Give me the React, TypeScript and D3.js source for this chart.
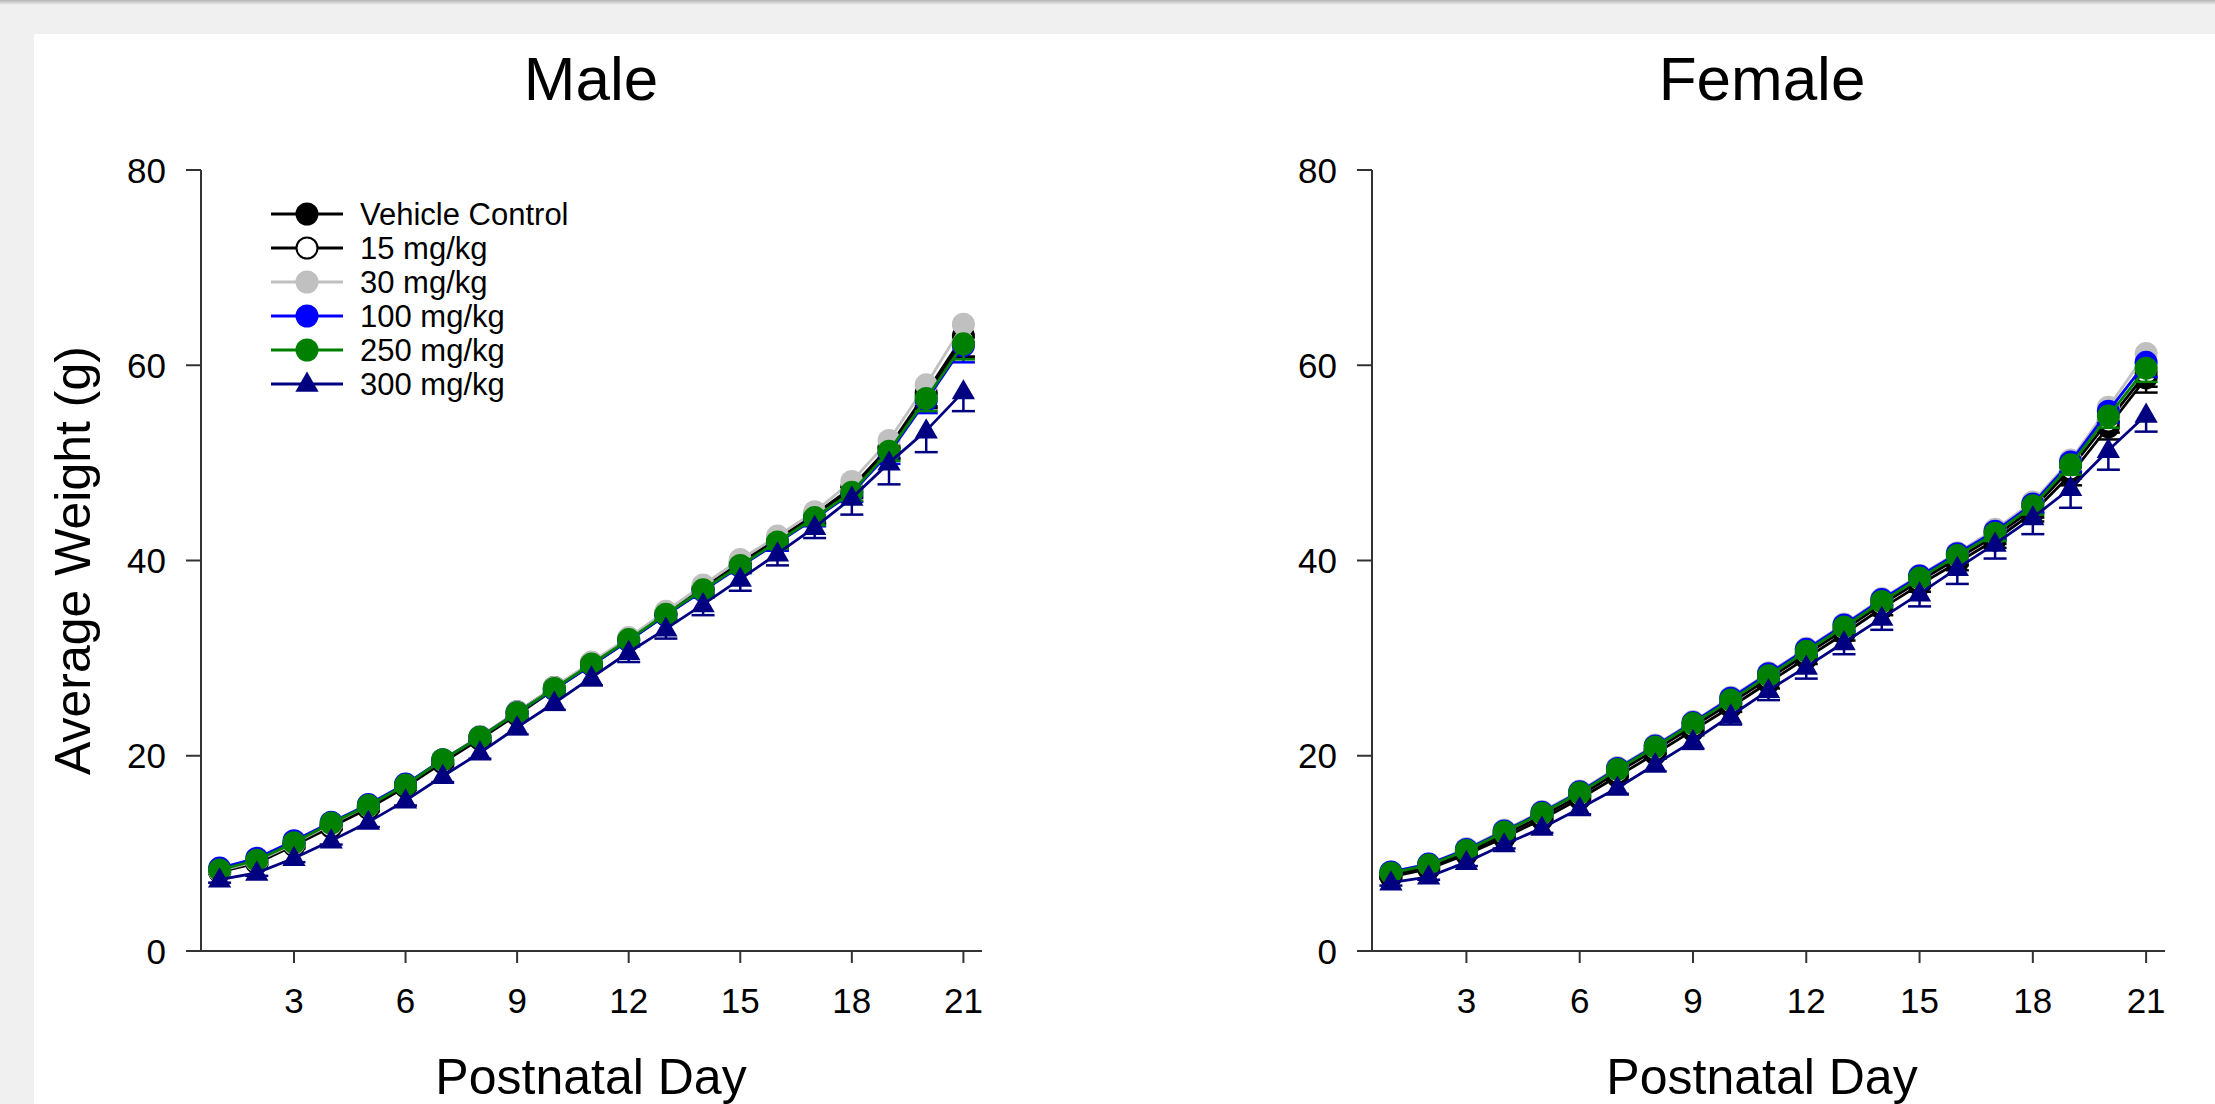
import React from 'react';
import * as d3 from 'd3';

// x categories: postnatal day
const DAYS = [1, 2, 3, 4, 5, 6, 7, 8, 9, 10, 11, 12, 13, 14, 15, 16, 17, 18, 19, 20, 21];
const X_TICKS = [3, 6, 9, 12, 15, 18, 21];
const Y_TICKS = [0, 20, 40, 60, 80];
const GROUPS = ['Vehicle Control', '15 mg/kg', '30 mg/kg', '100 mg/kg', '250 mg/kg', '300 mg/kg'];

// Male mean weights (g)
const maleVehicle = [8.2, 9.1, 10.9, 12.8, 14.8, 17.0, 19.5, 21.9, 24.5, 27.0, 29.5, 32.0, 34.6, 37.2, 39.8, 42.2, 44.7, 47.5, 51.6, 57.2, 63.0];
const male15 = [8.1, 9.0, 10.8, 12.7, 14.6, 16.8, 19.3, 21.7, 24.2, 26.8, 29.3, 31.8, 34.4, 37.0, 39.5, 42.0, 44.5, 47.3, 51.4, 56.9, 62.6];
const male30 = [8.2, 9.2, 11.0, 13.0, 14.9, 17.1, 19.6, 22.0, 24.5, 27.0, 29.6, 32.1, 34.8, 37.5, 40.1, 42.5, 45.0, 48.1, 52.3, 58.0, 64.2];
const male100 = [8.5, 9.5, 11.3, 13.2, 15.0, 17.1, 19.6, 21.9, 24.4, 26.8, 29.3, 31.8, 34.4, 36.9, 39.4, 41.8, 44.3, 46.9, 51.0, 56.4, 62.0];
const male250 = [8.3, 9.3, 11.1, 13.1, 14.9, 17.0, 19.6, 21.9, 24.4, 26.9, 29.4, 31.9, 34.5, 37.0, 39.5, 41.9, 44.4, 47.0, 51.2, 56.6, 62.2];
const male300 = [7.3, 8.0, 9.5, 11.3, 13.2, 15.4, 17.9, 20.3, 22.9, 25.4, 28.0, 30.6, 33.0, 35.5, 38.1, 40.7, 43.4, 46.4, 50.0, 53.3, 57.3];

// Male standard errors
const maleVehicleSE = [0.2, 0.2, 0.3, 0.3, 0.3, 0.4, 0.4, 0.4, 0.5, 0.5, 0.5, 0.6, 0.6, 0.6, 0.7, 0.7, 0.8, 0.9, 1.1, 1.4, 2.2];
const male15SE = [0.2, 0.2, 0.3, 0.3, 0.3, 0.3, 0.4, 0.4, 0.4, 0.5, 0.5, 0.5, 0.6, 0.6, 0.7, 0.7, 0.8, 0.9, 1.0, 1.3, 1.7];
const male30SE = [0.2, 0.2, 0.2, 0.3, 0.3, 0.3, 0.4, 0.4, 0.4, 0.5, 0.5, 0.5, 0.6, 0.6, 0.6, 0.7, 0.7, 0.8, 1.0, 1.2, 1.6];
const male100SE = [0.2, 0.2, 0.3, 0.3, 0.3, 0.4, 0.4, 0.4, 0.5, 0.5, 0.5, 0.6, 0.6, 0.7, 0.7, 0.8, 0.8, 0.9, 1.1, 1.3, 1.7];
const male250SE = [0.2, 0.2, 0.3, 0.3, 0.3, 0.4, 0.4, 0.4, 0.5, 0.5, 0.5, 0.6, 0.6, 0.6, 0.7, 0.7, 0.8, 0.9, 1.0, 1.3, 1.6];
const male300SE = [0.3, 0.3, 0.4, 0.4, 0.5, 0.5, 0.6, 0.6, 0.7, 0.7, 0.8, 1.0, 1.0, 1.1, 1.2, 1.2, 1.1, 1.7, 2.2, 2.2, 2.0];

// Female mean weights (g)
const femaleVehicle = [7.6, 8.4, 9.9, 11.6, 13.5, 15.6, 17.9, 20.2, 22.6, 25.0, 27.5, 30.0, 32.5, 35.1, 37.5, 39.8, 42.1, 44.9, 48.8, 53.7, 58.7];
const female15 = [7.8, 8.6, 10.1, 11.9, 13.8, 15.9, 18.3, 20.6, 23.0, 25.4, 27.9, 30.4, 32.9, 35.5, 37.9, 40.2, 42.5, 45.3, 49.4, 54.3, 59.2];
const female30 = [8.1, 8.9, 10.5, 12.4, 14.3, 16.4, 18.8, 21.1, 23.5, 26.0, 28.5, 31.0, 33.5, 36.1, 38.5, 40.8, 43.2, 46.0, 50.3, 55.7, 61.2];
const female100 = [8.1, 8.9, 10.4, 12.3, 14.2, 16.3, 18.7, 21.0, 23.4, 25.9, 28.4, 30.9, 33.4, 36.0, 38.4, 40.7, 43.0, 45.8, 50.1, 55.3, 60.3];
const female250 = [8.0, 8.8, 10.3, 12.2, 14.1, 16.2, 18.6, 20.9, 23.3, 25.7, 28.2, 30.7, 33.2, 35.8, 38.2, 40.5, 42.8, 45.6, 49.8, 54.8, 59.7];
const female300 = [7.0, 7.6, 9.1, 10.9, 12.6, 14.6, 16.7, 19.1, 21.5, 24.1, 26.7, 29.1, 31.6, 34.1, 36.6, 39.2, 41.7, 44.4, 47.4, 51.3, 54.9];

// Female standard errors
const femaleVehicleSE = [0.2, 0.2, 0.3, 0.3, 0.3, 0.4, 0.4, 0.5, 0.5, 0.5, 0.6, 0.6, 0.7, 0.7, 0.7, 0.8, 0.8, 0.9, 1.1, 1.3, 1.5];
const female15SE = [0.2, 0.2, 0.2, 0.3, 0.3, 0.3, 0.4, 0.4, 0.5, 0.5, 0.5, 0.6, 0.6, 0.6, 0.7, 0.7, 0.8, 0.9, 1.0, 1.2, 1.4];
const female30SE = [0.2, 0.2, 0.2, 0.3, 0.3, 0.3, 0.4, 0.4, 0.4, 0.5, 0.5, 0.5, 0.6, 0.6, 0.6, 0.7, 0.7, 0.8, 1.0, 1.2, 1.4];
const female100SE = [0.2, 0.2, 0.3, 0.3, 0.3, 0.4, 0.4, 0.4, 0.5, 0.5, 0.5, 0.6, 0.6, 0.6, 0.7, 0.7, 0.8, 0.9, 1.0, 1.2, 1.5];
const female250SE = [0.2, 0.2, 0.3, 0.3, 0.3, 0.4, 0.4, 0.4, 0.5, 0.5, 0.5, 0.6, 0.6, 0.6, 0.7, 0.7, 0.8, 0.9, 1.0, 1.2, 1.4];
const female300SE = [0.3, 0.3, 0.4, 0.4, 0.5, 0.6, 0.6, 0.7, 0.8, 0.9, 1.0, 1.2, 1.2, 1.2, 1.3, 1.6, 1.5, 1.7, 2.0, 2.0, 1.7];

const MALE_MEANS = [maleVehicle, male15, male30, male100, male250, male300];
const MALE_SE = [maleVehicleSE, male15SE, male30SE, male100SE, male250SE, male300SE];
const FEMALE_MEANS = [femaleVehicle, female15, female30, female100, female250, female300];
const FEMALE_SE = [femaleVehicleSE, female15SE, female30SE, female100SE, female250SE, female300SE];

const STYLES = [
  { stroke: '#000000', fill: '#000000', edge: '#000000', shape: 'circle' },
  { stroke: '#000000', fill: '#ffffff', edge: '#000000', shape: 'circle' },
  { stroke: '#c0c0c0', fill: '#c0c0c0', edge: '#c0c0c0', shape: 'circle' },
  { stroke: '#0000ff', fill: '#0000ff', edge: '#0000ff', shape: 'circle' },
  { stroke: '#008000', fill: '#008000', edge: '#008000', shape: 'circle' },
  { stroke: '#000080', fill: '#000080', edge: '#000080', shape: 'triangle' },
];

const FONT = 'Liberation Sans, Arial, Helvetica, sans-serif';
const W = 2215;
const H = 1104;
const TOP = 170;
const BOTTOM = 951;
const AXIS_COLOR = '#333333';

const trianglePath = d3.symbol().type(d3.symbolTriangle).size(235)();

function Marker({ cx, cy, style }) {
  if (style.shape === 'triangle') {
    return <path d={trianglePath} transform={`translate(${cx},${cy + 1})`} fill={style.fill} />;
  }
  return (
    <circle
      cx={cx}
      cy={cy}
      r={style.fill === '#ffffff' ? 10.5 : 11.5}
      fill={style.fill}
      stroke={style.edge}
      strokeWidth={style.fill === '#ffffff' ? 2 : 0}
    />
  );
}

function Panel({ title, titleX, left, right, means, errors, yLabel, legend }) {
  const x = d3.scaleLinear().domain([0.5, 21.5]).range([left, right]);
  const y = d3.scaleLinear().domain([0, 80]).range([BOTTOM, TOP]);
  const line = d3.line<number>().x((_, i) => x(DAYS[i])).y(d => y(d));
  const cx = (left + right) / 2;

  return (
    <g>
      <text x={titleX} y={100} textAnchor="middle" fontSize={62} fontFamily={FONT} fill="#000">{title}</text>

      {/* axes */}
      <line x1={left} x2={left} y1={TOP} y2={BOTTOM} stroke={AXIS_COLOR} strokeWidth={2} />
      <line x1={left} x2={right} y1={BOTTOM} y2={BOTTOM} stroke={AXIS_COLOR} strokeWidth={2} />
      {Y_TICKS.map(t => (
        <g key={`y${t}`}>
          <line x1={left - 15} x2={left} y1={y(t)} y2={y(t)} stroke={AXIS_COLOR} strokeWidth={2} />
          <text x={left - 35} y={y(t)} dy="0.36em" textAnchor="end" fontSize={35} fontFamily={FONT} fill="#000">{t}</text>
        </g>
      ))}
      {X_TICKS.map(t => (
        <g key={`x${t}`}>
          <line x1={x(t)} x2={x(t)} y1={BOTTOM} y2={BOTTOM + 12} stroke={AXIS_COLOR} strokeWidth={2} />
          <text x={x(t)} y={1013} textAnchor="middle" fontSize={35} fontFamily={FONT} fill="#000">{t}</text>
        </g>
      ))}
      <text x={titleX} y={1094} textAnchor="middle" fontSize={50} fontFamily={FONT} fill="#000">Postnatal Day</text>
      {yLabel && (
        <text transform={`translate(90,${(TOP + BOTTOM) / 2}) rotate(-90)`} textAnchor="middle" fontSize={50} fontFamily={FONT} fill="#000">
          Average Weight (g)
        </text>
      )}

      {/* series: line, error bars, symbols */}
      {means.map((vals, s) => {
        const st = STYLES[s];
        return (
          <g key={GROUPS[s]}>
            <path d={line(vals) || ''} fill="none" stroke={st.stroke} strokeWidth={2.8} strokeLinejoin="round" />
            {vals.map((v, i) => {
              const px = x(DAYS[i]);
              const lo = y(v - errors[s][i]);
              return (
                <g key={i}>
                  <line x1={px} x2={px} y1={y(v)} y2={lo} stroke={st.edge} strokeWidth={2.5} />
                  <line x1={px - 11.5} x2={px + 11.5} y1={lo} y2={lo} stroke={st.edge} strokeWidth={2.5} />
                </g>
              );
            })}
            {vals.map((v, i) => (
              <Marker key={`m${i}`} cx={x(DAYS[i])} cy={y(v)} style={st} />
            ))}
          </g>
        );
      })}

      {legend && (
        <g>
          {GROUPS.map((name, s) => {
            const ly = 214 + s * 34;
            const st = STYLES[s];
            return (
              <g key={name}>
                <line x1={271} x2={343} y1={ly} y2={ly} stroke={st.stroke} strokeWidth={3} />
                <Marker cx={307} cy={ly} style={st} />
                <text x={360} y={ly} dy="0.36em" fontSize={31} fontFamily={FONT} fill="#000">{name}</text>
              </g>
            );
          })}
        </g>
      )}
    </g>
  );
}

export default function App() {
  return (
    <svg
      width={W}
      height={H}
      viewBox={`0 0 ${W} ${H}`}
      style={{ position: 'absolute', left: 0, top: 0, display: 'block' }}
    >
      <defs>
        <linearGradient id="topShade" x1="0" y1="0" x2="0" y2="1">
          <stop offset="0" stopColor="#b4b4b4" />
          <stop offset="1" stopColor="#f0f0f0" />
        </linearGradient>
      </defs>
      <rect x={0} y={0} width={W} height={H} fill="#f0f0f0" />
      <rect x={0} y={0} width={W} height={5} fill="url(#topShade)" />
      <rect x={34} y={34} width={W - 34} height={H - 34} fill="#ffffff" />

      <Panel title="Male" titleX={591} left={201} right={982} means={MALE_MEANS} errors={MALE_SE} yLabel legend />
      <Panel title="Female" titleX={1762} left={1372} right={2165} means={FEMALE_MEANS} errors={FEMALE_SE} yLabel={false} legend={false} />
    </svg>
  );
}
